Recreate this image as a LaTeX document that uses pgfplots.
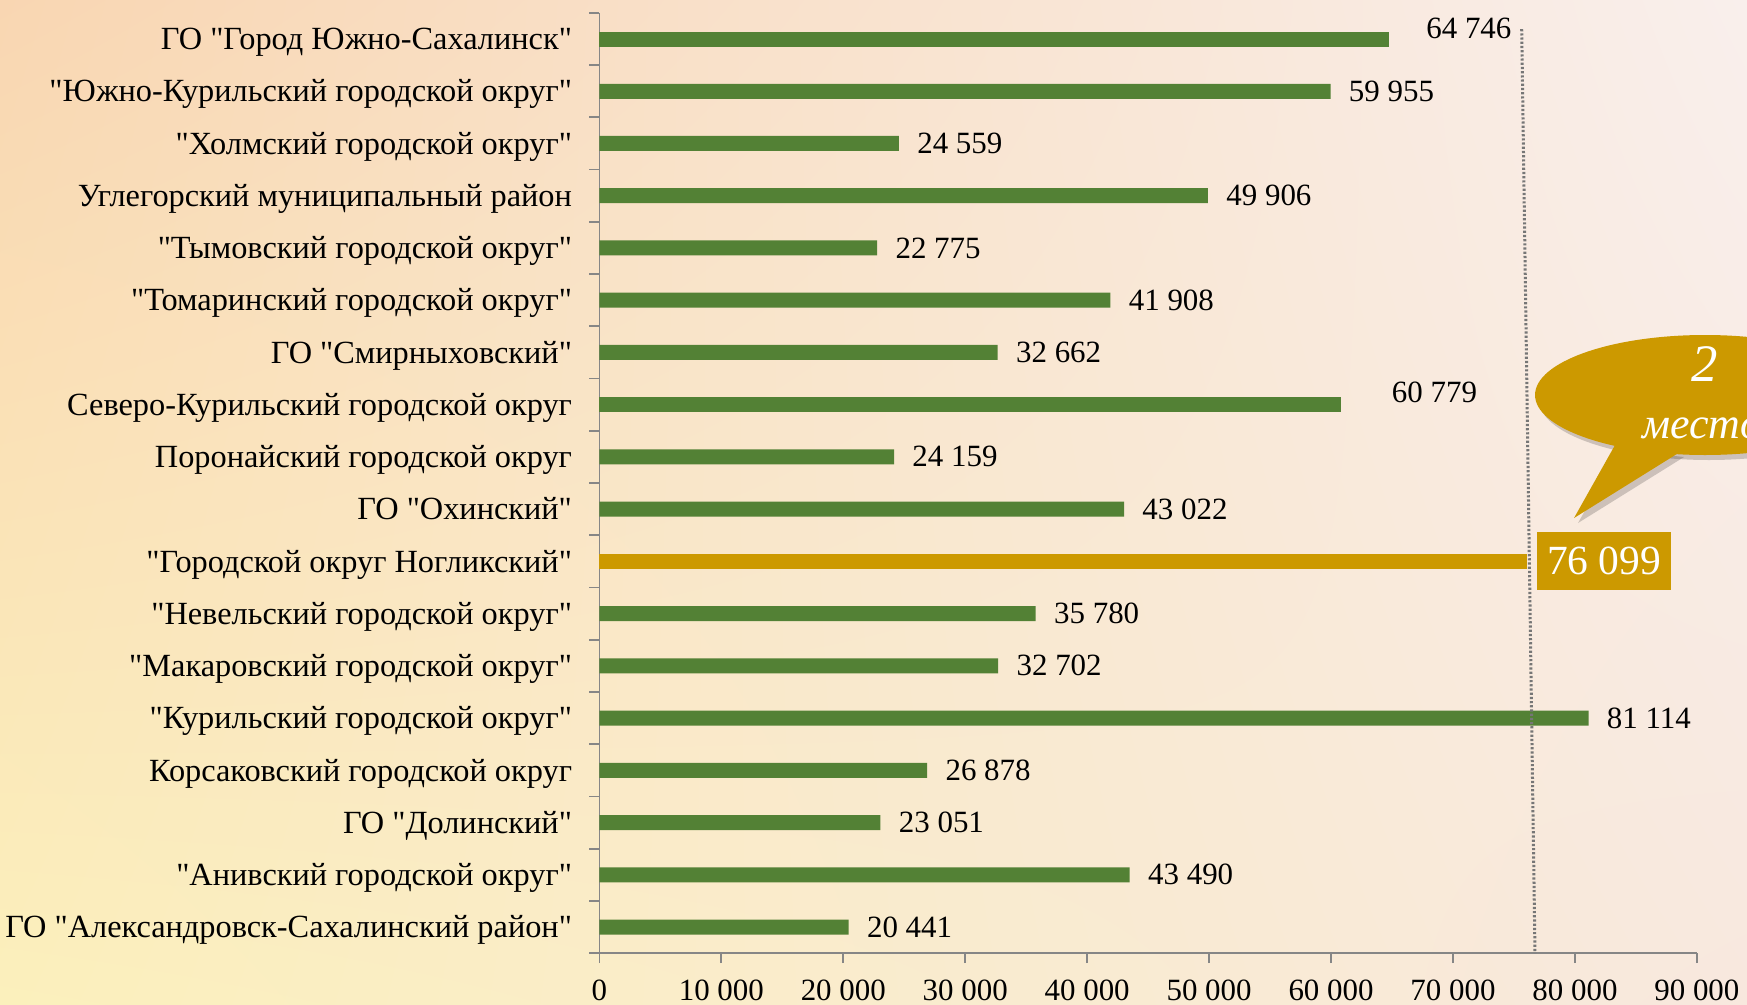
\documentclass[border=0pt]{standalone}
\usepackage{fontspec}
\setmainfont{Liberation Serif}[Ligatures=TeXOff]
\usepackage{pgfplots}
\usepackage{pgfplotstable}
\usetikzlibrary{shadings}
\pgfplotsset{compat=1.18}
\definecolor{barg}{RGB}{83,129,53}
\definecolor{gold}{RGB}{204,153,0}
\definecolor{axg}{RGB}{134,134,134}
\definecolor{dotg}{RGB}{118,118,118}
\definecolor{bgA}{RGB}{249,214,178}
\definecolor{bgB}{RGB}{251,240,188}
\definecolor{bgC}{RGB}{249,239,236}
\definecolor{bgD}{RGB}{248,232,222}

\pgfplotstableread{
y x
1 59955
2 24559
3 49906
4 22775
5 41908
6 32662
8 24159
9 43022
11 35780
12 32702
13 81114
14 26878
15 23051
16 43490
17 20441
}\greendata

\pgfplotstableread{
y x
0 64746
}\greenA

\pgfplotstableread{
y x
7 60779
}\greenB

\pgfplotstableread{
y x
10 76099
}\golddata

\pgfkeys{/pgf/number format/.cd, 1000 sep={\ }, assume math mode=true}

\begin{document}
\begin{tikzpicture}
\useasboundingbox (0,0) rectangle (174.7mm,-100.5mm);
\clip (0,0) rectangle (174.7mm,-100.5mm);
\shade[upper left=bgA, lower left=bgB, upper right=bgC, lower right=bgD] (0,0) rectangle (174.7mm,-100.5mm);
\begin{axis}[
  at={(59.94mm,-1.29mm)}, anchor=north west,
  scale only axis, width=109.75mm, height=94.02mm,
  xmin=0, xmax=90000, ymin=-0.5, ymax=17.5, y dir=reverse,
  xbar, bar width=1.5mm, bar shift=0pt,
  axis x line*=bottom, axis y line*=left,
  axis line style={axg, line width=0.5pt},
  tick align=outside, major tick length=1mm,
  tick style={axg, line width=0.5pt},
  xtick={0,10000,...,90000},
  scaled x ticks=false,
  xticklabel style={font=\fontsize{8.8}{10}\selectfont, yshift=-0.45mm},
  ytick={-0.5,0.5,...,17.5}, yticklabels={},
  extra y ticks={0,...,17},
  extra y tick style={major tick length=0pt},
  extra y tick labels={
    ГО "Город Южно-Сахалинск",
    "Южно-Курильский городской округ",
    "Холмский городской округ",
    Углегорский муниципальный район,
    "Тымовский городской округ",
    "Томаринский городской округ",
    ГО "Смирныховский",
    Северо-Курильский городской округ,
    Поронайский городской округ,
    ГО "Охинский",
    "Городской округ Ногликский",
    "Невельский городской округ",
    "Макаровский городской округ",
    "Курильский городской округ",
    Корсаковский городской округ,
    ГО "Долинский",
    "Анивский городской округ",
    ГО "Александровск-Сахалинский район"},
  yticklabel style={font=\fontsize{9.2}{11}\selectfont, anchor=base east, xshift=-1.5mm, yshift=-3.05pt},
  clip=false,
  nodes near coords,
  point meta=x,
  every node near coord/.append style={anchor=west, text=black,
    font=\fontsize{8.8}{10}\selectfont},
]
\addplot[fill=barg, draw=none,
  every node near coord/.append style={xshift=0.6mm}
] table[x=x, y=y] {\greendata};
\addplot[fill=barg, draw=none,
  every node near coord/.append style={xshift=2.5mm, yshift=1.1mm}
] table[x=x, y=y] {\greenA};
\addplot[fill=barg, draw=none,
  every node near coord/.append style={xshift=3.9mm, yshift=1.2mm}
] table[x=x, y=y] {\greenB};
\addplot[fill=gold, draw=none,
  every node near coord/.append style={fill=gold, text=white,
    font=\fontsize{11.8}{13}\selectfont, inner xsep=1mm, minimum height=5.8mm, xshift=0.9mm}
] table[x=x, y=y] {\golddata};
\draw[dotg, line width=0.3mm, dash pattern=on 0.22mm off 0.2mm]
  (axis cs:75636,-0.19) -- (axis cs:76726,17.5);
\end{axis}
\begin{scope}[x=0.1mm, y=-0.1mm]
  \fill[black, opacity=0.18] (1709,400) ellipse [x radius=170, y radius=60];
  \fill[black, opacity=0.18] (1619,450) -- (1578,523) -- (1684,457) -- cycle;
  \fill[gold] (1705,395) ellipse [x radius=170, y radius=60];
  \fill[gold] (1615,445) -- (1574,518) -- (1680,452) -- cycle;
  \node[text=white, font=\fontsize{15}{16}\selectfont\itshape] at (1705,364) {2};
  \node[text=white, font=\fontsize{12.5}{14}\selectfont\itshape, anchor=west] at (1630,428) {место};
\end{scope}
\end{tikzpicture}
\end{document}
